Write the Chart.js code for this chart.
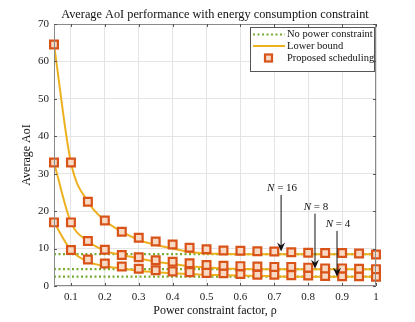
<!DOCTYPE html>
<html><head><meta charset="utf-8">
<script src="https://cdn.jsdelivr.net/npm/chart.js@4"></script>
<style>html,body{margin:0;padding:0;background:#fff}#wrap{width:415px;height:322px}</style>
</head><body><div id="wrap"><canvas id="c" width="415" height="322"></canvas></div>
<script>
const rho = [0.05,0.1,0.15,0.2,0.25,0.3,0.35,0.4,0.45,0.5,0.55,0.6,0.65,0.7,0.75,0.8,0.85,0.9,0.95,1];
const proposed16 = [64.5,33,22.5,17.5,14.5,12.9,11.9,11.1,10.2,9.8,9.5,9.4,9.3,9.2,9.0,8.9,8.8,8.8,8.7,8.4];
const proposed8  = [33,17,12.0,9.7,8.3,7.7,6.9,6.5,6.1,5.6,5.4,5.3,5.2,5.1,5.1,4.9,4.7,4.7,4.6,4.5];
const proposed4  = [17,9.6,7.1,6.0,5.2,4.6,4.2,3.9,3.7,3.5,3.4,3.2,3.0,3.0,2.9,2.8,2.7,2.6,2.6,2.5];
const lower16 = [64.5,33,22.5,17.5,14.5,12.3,11.0,10.0,9.1,8.7,8.6,8.5,8.5,8.5,8.5,8.5,8.5,8.5,8.5,8.5];
const lower8  = [33,17,12.0,9.4,8.3,7.4,6.5,5.9,5.3,5.0,4.7,4.6,4.5,4.5,4.5,4.5,4.5,4.5,4.5,4.5];
const lower4  = [17,9.6,6.5,5.3,4.7,4.1,3.7,3.4,3.2,3.0,2.9,2.8,2.7,2.6,2.5,2.5,2.5,2.5,2.5,2.5];
const noPower = [8.5,4.5,2.5];
const xTicks = [0.1,0.2,0.3,0.4,0.5,0.6,0.7,0.8,0.9,1];
const yTicks = [0,10,20,30,40,50,60,70];
const annLabels = ['N = 16','N = 8','N = 4'];
const annX = [0.72,0.82,0.885];
const annTip = [9.2,4.6,2.5];
const annTextY = [26.2,21.2,16.6];

const FONT = '"Liberation Serif", "DejaVu Serif", serif';
const cOrange = '#D95319', cYellow = '#EDB120', cGreen = '#77AC30';
const pts = a => rho.map((x,i)=>({x, y:a[i]}));

const datasets = [];
noPower.forEach(v => datasets.push({type:'line', data:[{x:0.05,y:v},{x:1,y:v}], borderColor:cGreen, borderWidth:2.2, borderDash:[2,2.5], pointRadius:0, order:3}));
[lower16,lower8,lower4].forEach(a => datasets.push({type:'line', data:pts(a), borderColor:cYellow, borderWidth:2, pointRadius:0, cubicInterpolationMode:'monotone', order:2}));
[proposed16,proposed8,proposed4].forEach(a => datasets.push({type:'line', data:pts(a), showLine:false, clip:false, pointStyle:'rect', pointRadius:5.5, borderColor:cOrange, backgroundColor:'#F7D9C4', pointBorderWidth:2.2, order:1}));

const deco = {
  id:'deco',
  beforeDraw(chart){
    const ctx = chart.ctx; ctx.save(); ctx.fillStyle='#fff'; ctx.fillRect(0,0,chart.width,chart.height); ctx.restore();
  },
  afterDatasetsDraw(chart){
    const ctx = chart.ctx, a = chart.chartArea, xs = chart.scales.x, ys = chart.scales.y;
    ctx.save();
    ctx.strokeStyle='#8a8a8a'; ctx.lineWidth=1;
    ctx.beginPath();
    ctx.moveTo(a.left+0.5,a.top+0.5); ctx.lineTo(a.right-0.5,a.top+0.5); ctx.lineTo(a.right-0.5,a.bottom-0.5); ctx.lineTo(a.left+0.5,a.bottom-0.5); ctx.closePath();
    ctx.stroke();
    ctx.restore();
  },
  afterDraw(chart){
    const ctx = chart.ctx, a = chart.chartArea, xs = chart.scales.x, ys = chart.scales.y;
    ctx.save();
    ctx.strokeStyle='#555'; ctx.lineWidth=1;
    xTicks.forEach(t=>{const px=Math.round(xs.getPixelForValue(t))+0.5; ctx.beginPath(); ctx.moveTo(px,a.bottom); ctx.lineTo(px,a.bottom-3); ctx.moveTo(px,a.top); ctx.lineTo(px,a.top+3); ctx.stroke();});
    yTicks.forEach(t=>{const py=Math.round(ys.getPixelForValue(t))+0.5; ctx.beginPath(); ctx.moveTo(a.left,py); ctx.lineTo(a.left+3,py); ctx.moveTo(a.right,py); ctx.lineTo(a.right-3,py); ctx.stroke();});
    ctx.fillStyle='#111'; ctx.textAlign='center'; ctx.textBaseline='middle';
    ctx.font='12.3px '+FONT;
    ctx.fillText('Average AoI performance with energy consumption constraint',(a.left+a.right)/2,15);
    ctx.font='12px '+FONT;
    ctx.fillText('Power constraint factor, \u03C1',(a.left+a.right)/2,311);
    ctx.save(); ctx.translate(27,(a.top+a.bottom)/2); ctx.rotate(-Math.PI/2); ctx.fillText('Average AoI',0,0); ctx.restore();
    annLabels.forEach((lab,i)=>{
      const px = xs.getPixelForValue(annX[i]);
      const tip = ys.getPixelForValue(annTip[i]);
      const ty = ys.getPixelForValue(annTextY[i]);
      ctx.fillStyle='#111';
      const parts = lab.split(' = ');
      ctx.font='italic 11px '+FONT;
      const w1 = ctx.measureText(parts[0]).width;
      ctx.font='11px '+FONT;
      const w2 = ctx.measureText(' = '+parts[1]).width;
      const x0 = px - (w1+w2)/2 + 1;
      ctx.textAlign='left';
      ctx.font='italic 11px '+FONT; ctx.fillText(parts[0],x0,ty);
      ctx.font='11px '+FONT; ctx.fillText(' = '+parts[1],x0+w1,ty);
      ctx.strokeStyle='#111'; ctx.lineWidth=1;
      ctx.beginPath(); ctx.moveTo(px,ty+7); ctx.lineTo(px,tip-4); ctx.stroke();
      ctx.beginPath(); ctx.moveTo(px,tip); ctx.lineTo(px-4,tip-9); ctx.lineTo(px,tip-6); ctx.lineTo(px+4,tip-9); ctx.closePath(); ctx.fill();
    });
    const lx=250, ly=27, lw=124, lh=44;
    ctx.fillStyle='#fff'; ctx.fillRect(lx,ly,lw,lh);
    ctx.strokeStyle='#555'; ctx.lineWidth=1; ctx.strokeRect(lx+0.5,ly+0.5,lw,lh);
    ctx.font='10.5px '+FONT; ctx.fillStyle='#111'; ctx.textAlign='left'; ctx.textBaseline='middle';
    const rows=[ly+7.5, ly+19, ly+31];
    ctx.strokeStyle=cGreen; ctx.lineWidth=2.2; ctx.setLineDash([2,2.5]);
    ctx.beginPath(); ctx.moveTo(253,rows[0]); ctx.lineTo(285,rows[0]); ctx.stroke(); ctx.setLineDash([]);
    ctx.fillText('No power constraint',287,rows[0]);
    ctx.strokeStyle=cYellow; ctx.lineWidth=2;
    ctx.beginPath(); ctx.moveTo(253,rows[1]); ctx.lineTo(285,rows[1]); ctx.stroke();
    ctx.fillText('Lower bound',287,rows[1]);
    ctx.fillStyle='#F7D9C4'; ctx.fillRect(265,rows[2]-3.5,7,7);
    ctx.strokeStyle=cOrange; ctx.lineWidth=2.2; ctx.strokeRect(265,rows[2]-3.5,7,7);
    ctx.fillStyle='#111'; ctx.fillText('Proposed scheduling',287,rows[2]);
    ctx.restore();
  }
};

new Chart(document.getElementById('c'), {
  type:'line',
  data:{datasets},
  plugins:[deco],
  options:{
    responsive:false, animation:false, devicePixelRatio:1,
    layout:{padding:{left:0,right:39,top:24,bottom:0}},
    plugins:{legend:{display:false}, tooltip:{enabled:false}, title:{display:false}},
    scales:{
      x:{type:'linear', min:0.05, max:1,
        afterBuildTicks:s=>{s.ticks=xTicks.map(v=>({value:v}));},
        afterFit:s=>{s.height=36;},
        grid:{color:'#e4e4e4', drawTicks:false},
        border:{display:false},
        ticks:{padding:5, color:'#222', font:{family:FONT,size:11}, callback:v=>String(v)}},
      y:{type:'linear', min:0, max:70,
        afterBuildTicks:s=>{s.ticks=yTicks.map(v=>({value:v}));},
        afterFit:s=>{s.width=54;},
        grid:{color:'#e4e4e4', drawTicks:false},
        border:{display:false},
        ticks:{padding:5, color:'#222', font:{family:FONT,size:11}}}
    }
  }
});
</script></body></html>
